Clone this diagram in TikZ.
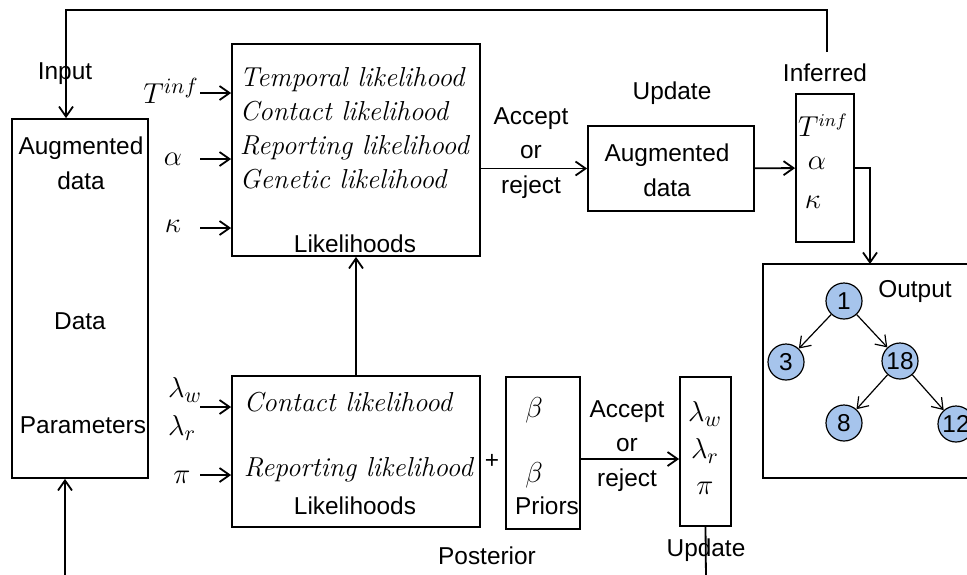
\documentclass[tikz,border=0pt]{standalone}
\usepackage{fontspec}
\setsansfont{Liberation Sans}
\usetikzlibrary{arrows.meta}

\definecolor{treeblue}{RGB}{166,196,236}
\tikzset{
  box/.style={draw,inner sep=0},
  lab/.style={font=\sffamily\fontsize{12.2}{17.4}\selectfont,align=center,inner sep=0},
  lk/.style={font=\itshape\fontsize{13.7}{17}\selectfont,align=left,inner sep=0,anchor=west},
  sym/.style={font=\fontsize{15}{17}\selectfont,inner sep=0},
  tree/.style={circle,draw,fill=treeblue,minimum size=18pt,inner sep=0,line width=0.6pt,
    font=\sffamily\fontsize{12.2}{14}\selectfont}
}

\begin{document}
\begin{tikzpicture}[x=0.5pt,y=-0.5pt,line width=0.9pt,>={Straight Barb[length=5pt,width=7pt]}]
      \useasboundingbox (0,0) rectangle (967,574);
      \clip (0,0) rectangle (967,574);

      \node [box,minimum width=68pt,minimum height=179.5pt] (data) at (80,298.5) {};
      \node [lab] (augtxt) at (81,163) {Augmented\\data};
      \node [lab] (datatxt) at (80,321) {Data};
      \node [lab] (partxt) at (83,425) {Parameters};
      \node [lab] (input) at (65,74) {Input};

      \node [box,minimum width=124pt,minimum height=106pt] (lik) at (356,150) {};
      \node [lk] (liktxt) at (239,128) {Temporal likelihood\\Contact likelihood\\Reporting likelihood\\Genetic likelihood};
      \node [lab] (likname) at (355,244) {Likelihoods};

      \node [sym] (tinf) at (171,91) {$T^{inf}$};
      \node [sym] (alpha) at (173,159) {$\alpha$};
      \node [sym] (kappa) at (173,226) {$\kappa$};
      \coordinate (tin) at (200,93);
      \coordinate (ain) at (200,159);
      \coordinate (kin) at (200,228);
      \draw [->] (tin) -- (tin -| lik.west);
      \draw [->] (ain) -- (ain -| lik.west);
      \draw [->] (kin) -- (kin -| lik.west);

      \node [box,minimum width=83pt,minimum height=42.5pt] (upd) at (671,168.5) {};
      \node [lab] (updtxt) at (667,170) {Augmented\\data};
      \node [lab] (updname) at (672,93) {Update};
      \node [lab] (acc) at (531,153) {Accept\\or\\reject};
      \draw [->] (upd.west -| lik.east) -- (upd.west);

      \node [box,minimum width=29pt,minimum height=74pt] (inf) at (825,168) {};
      \node [sym,font=\fontsize{13.5}{16}\selectfont] (inft) at (823,125) {$T^{inf}$};
      \node [sym] (infa) at (817,163) {$\alpha$};
      \node [sym] (infk) at (813,202) {$\kappa$};
      \node [lab] (infname) at (825,73) {Inferred};
      \draw [->] (upd) -- (inf);

      \coordinate (fb) at (827,52);
      \coordinate (loop) at (66,10);
      \draw [->] (fb) |- (loop) -- (loop |- data.north);
      \coordinate (bot) at (65,580);
      \draw [->] (bot) -- (bot |- data.south);

      \node [box,minimum width=120pt,minimum height=107pt] (outbox) at (883,371) {};
      \node [lab] (outname) at (915,292) {Output};
      \coordinate (drop) at (870,264);
      \draw [->] (inf.east) -| (drop);

      \node [tree] (n1) at (844,301) {1};
      \node [tree] (n3) at (786,362) {3};
      \node [tree] (n18) at (900,361) {18};
      \node [tree] (n8) at (844,423) {8};
      \node [tree] (n12) at (956,424) {12};
      \draw [->,line width=0.6pt] (n1) -- (n3);
      \draw [->,line width=0.6pt] (n1) -- (n18);
      \draw [->,line width=0.6pt] (n18) -- (n8);
      \draw [->,line width=0.6pt] (n18) -- (n12);

      \node [box,minimum width=124pt,minimum height=75.5pt] (lik2) at (356,451.5) {};
      \node [lk] (contact) at (243,402) {Contact likelihood};
      \node [lk] (report) at (243,470) {Reporting likelihood};
      \node [lab] (likname2) at (355,506) {Likelihoods};
      \draw [->] (lik2) -- (lik);

      \node [sym,align=left] (lam) at (185,409) {$\lambda_w$\\[2pt]$\lambda_r$};
      \node [sym] (pi) at (182,477) {$\pi$};
      \coordinate (lin) at (200,407);
      \coordinate (pin) at (200,475);
      \draw [->] (lin) -- (lin -| lik2.west);
      \draw [->] (pin) -- (pin -| lik2.west);

      \node [lab] (plus) at (492,461) {+};
      \node [box,minimum width=37pt,minimum height=76pt] (pri) at (543,453) {};
      \node [sym] (b1) at (534,410) {$\beta$};
      \node [sym] (b2) at (534,475) {$\beta$};
      \node [lab] (priname) at (547,506) {Priors};

      \node [box,minimum width=25.5pt,minimum height=74.5pt] (upd2) at (705.5,451.5) {};
      \node [sym] (u2w) at (705,414) {$\lambda_w$};
      \node [sym] (u2r) at (705,451) {$\lambda_r$};
      \node [sym] (u2p) at (705,488) {$\pi$};
      \node [lab] (acc2) at (627,446) {Accept\\or\\reject};
      \draw [->] ([yshift=-3pt]pri.east) -- ([yshift=-3pt]pri.east -| upd2.west);

      \coordinate (bot2) at (706,580);
      \draw (upd2.south) -- (bot2);
      \node [lab] (upd2name) at (706,550) {Update};
      \node [lab] (post) at (487,556) {Posterior};
\end{tikzpicture}
\end{document}
